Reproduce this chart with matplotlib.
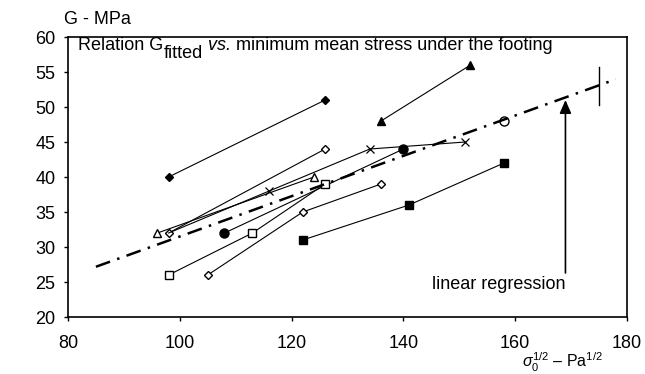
import numpy as np
import matplotlib
matplotlib.use("Agg")
import matplotlib.pyplot as plt

plt.rcParams['font.family'] = ['Liberation Sans', 'DejaVu Sans']
plt.rcParams['mathtext.fontset'] = 'custom'
plt.rcParams['mathtext.rm'] = 'Liberation Sans'
plt.rcParams['mathtext.it'] = 'Liberation Sans:italic'

# series (x = sqrt(sigma0) - Pa^1/2, y = G in MPa)
fdia_x, fdia_y = [98, 126], [40, 51]          # filled diamond
ftri_x, ftri_y = [136, 152], [48, 56]         # filled triangle
odia_x, odia_y = [98, 126], [32, 44]          # open diamond (upper)
otri_x, otri_y = [96, 124], [32, 40]          # open triangle
cross_x, cross_y = [98, 116, 134, 151], [32, 38, 44, 45]   # crosses
fcir_x, fcir_y = [108, 140], [32, 44]         # filled circle
osq_x, osq_y = [98, 113, 126], [26, 32, 39]   # open square
odia2_x, odia2_y = [105, 122, 136], [26, 35, 39]   # open diamond (lower)
fsq_x, fsq_y = [122, 141, 158], [31, 36, 42]  # filled square
ocir_x, ocir_y = [158], [48]                  # open circle

reg_x = [85, 178]
reg_slope, reg_icpt = 0.288, 2.7
err_x, err_y, err_h = 175, 53, 2.7
arrow_x, arrow_y0, arrow_y1 = 169, 26.3, 51

fig = plt.figure(figsize=(6.45, 3.74), dpi=100)
ax = fig.add_axes([0.1054, 0.1524, 0.8666, 0.7486])

lw = 0.8
ax.plot(fdia_x, fdia_y, 'k-', lw=lw, marker='D', ms=4.5, mfc='k')
ax.plot(ftri_x, ftri_y, 'k-', lw=lw, marker='^', ms=6, mfc='k')
ax.plot(odia_x, odia_y, 'k-', lw=lw, marker='D', ms=4.5, mfc='white')
ax.plot(otri_x, otri_y, 'k-', lw=lw, marker='^', ms=6, mfc='white')
ax.plot(cross_x, cross_y, 'k-', lw=lw, marker='x', ms=6, mew=0.9, markevery=[1, 2, 3])
ax.plot(fcir_x, fcir_y, 'k-', lw=lw, marker='o', ms=6.5, mfc='k')
ax.plot(osq_x, osq_y, 'k-', lw=lw, marker='s', ms=6, mfc='white')
ax.plot(odia2_x, odia2_y, 'k-', lw=lw, marker='D', ms=4.5, mfc='white')
ax.plot(fsq_x, fsq_y, 'k-', lw=lw, marker='s', ms=6, mfc='k')
ax.plot(ocir_x, ocir_y, 'k', lw=0, marker='o', ms=6.5, mfc='white')

# linear regression
rx = np.array(reg_x)
ax.plot(rx, reg_slope * rx + reg_icpt, 'k', lw=1.8, dashes=(6, 3, 1, 3))
ax.plot([err_x, err_x], [err_y - err_h, err_y + err_h], 'k-', lw=1.0)

ax.annotate('', xy=(arrow_x, arrow_y1), xytext=(arrow_x, arrow_y0),
            arrowprops=dict(arrowstyle='-|>,head_length=0.8,head_width=0.35',
                            color='k', lw=1.2, shrinkA=0, shrinkB=0))

fs = 13
ax.text(arrow_x, 24.7, 'linear regression', ha='right', va='center', fontsize=fs)

t1 = ax.text(81.8, 57.6, 'Relation G', ha='left', va='bottom', fontsize=fs)
t2 = ax.annotate('fitted', xy=(1, 0), xycoords=t1, xytext=(0, -6),
                 textcoords='offset points', ha='left', va='bottom', fontsize=fs)
t3 = ax.annotate(' vs.', xy=(1, 0), xycoords=(t2, t1), ha='left', va='bottom',
                 fontsize=fs, style='italic')
ax.annotate(' minimum mean stress under the footing', xy=(1, 0), xycoords=(t3, t1),
            ha='left', va='bottom', fontsize=fs)

ax.set_xlim(80, 180)
ax.set_ylim(20, 60)
ax.set_xticks(np.arange(80, 181, 20))
ax.set_yticks(np.arange(20, 61, 5))
ax.tick_params(direction='out', length=3, width=1, labelsize=fs)
ax.tick_params(axis='x', pad=10)
ax.tick_params(axis='y', pad=6)
for s in ax.spines.values():
    s.set_linewidth(1.2)

fig.text(64 / 645, 1 - 20 / 374, 'G - MPa', ha='left', va='center', fontsize=fs)
fig.text(562 / 645, 0, r'$\sigma_0^{1/2}$ – Pa$^{1/2}$', ha='center',
         va='bottom', fontsize=11.5)

fig.savefig('out.png', dpi=100)
